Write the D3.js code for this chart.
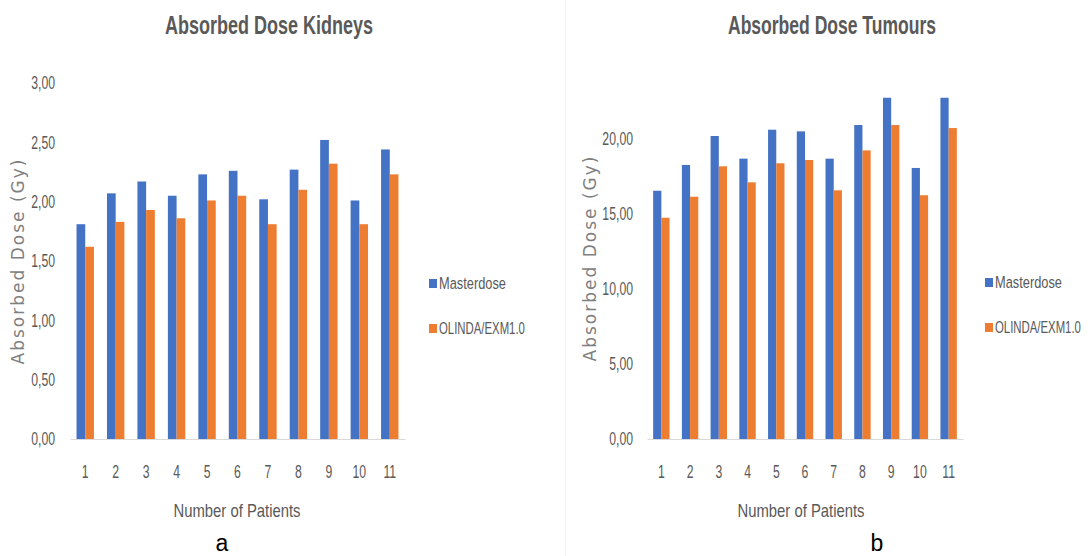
<!DOCTYPE html>
<html>
<head>
<meta charset="utf-8">
<script src="https://cdn.jsdelivr.net/npm/d3@7"></script>
<style>
  html, body { margin: 0; padding: 0; background: #fff; }
  svg { display: block; }
  .lbl { font-family: "Liberation Sans", Arial, sans-serif; fill: #595959; }
</style>
</head>
<body>
<svg id="chart" width="1091" height="556"></svg>
<script>
// Patients 1..11
const patients = ["1", "2", "3", "4", "5", "6", "7", "8", "9", "10", "11"];
const seriesNames = ["Masterdose", "OLINDA/EXM1.0"];

// Kidney absorbed dose (Gy)
const kidneysMasterdose = [1.81, 2.07, 2.17, 2.05, 2.23, 2.26, 2.02, 2.27, 2.52, 2.01, 2.44];
const kidneysOlinda     = [1.62, 1.83, 1.93, 1.86, 2.01, 2.05, 1.81, 2.10, 2.32, 1.81, 2.23];
const kidneysTicks = [0, 0.5, 1.0, 1.5, 2.0, 2.5, 3.0];

// Tumour absorbed dose (Gy)
const tumoursMasterdose = [16.55, 18.27, 20.20, 18.69, 20.62, 20.51, 18.69, 20.93, 22.75, 18.07, 22.75];
const tumoursOlinda     = [14.75, 16.15, 18.18, 17.11, 18.38, 18.60, 16.58, 19.24, 20.93, 16.25, 20.73];
const tumoursTicks = [0, 5, 10, 15, 20];

const colors = ["#4472C4", "#ED7D31"];
const legendWidths = [67, 86];
const fmt = v => d3.format(".2f")(v).replace(".", ",");

const svg = d3.select("#chart");

// narrow the glyphs of a text selection horizontally (condensed look)
function squeeze(sel, k) {
  sel.each(function () {
    const w = this.getComputedTextLength();
    d3.select(this).attr("textLength", w * k).attr("lengthAdjust", "spacingAndGlyphs");
  });
}
function fitWidth(sel, target) {
  sel.attr("textLength", target).attr("lengthAdjust", "spacingAndGlyphs");
}
// condensed text drawn through a horizontal scale transform
function scaledText(parent, x, y, str, size, target) {
  const g = parent.append("g");
  const t = g.append("text").attr("class", "lbl").attr("font-size", size)
    .attr("dy", "0.35em").text(str);
  const k = target / t.node().getComputedTextLength();
  g.attr("transform", `translate(${x},${y}) scale(${k},1)`);
  return t;
}

// faint divider between the two panels
svg.append("line")
  .attr("x1", 565.5).attr("x2", 565.5).attr("y1", 0).attr("y2", 556)
  .attr("stroke", "#f2f2f2").attr("stroke-width", 1);

function panel(cfg) {
  const g = svg.append("g");
  const x = d3.scaleBand().domain(patients).range([cfg.x0, cfg.x1]);
  const inner = d3.scaleBand().domain(seriesNames)
    .range([0, x.bandwidth()]).paddingInner(0).paddingOuter(0.75);
  const y = d3.scaleLinear().domain(cfg.domain).range([cfg.baseY, cfg.topY]);

  // bars
  const rows = patients.map((p, i) => ({ p, vals: [cfg.a[i], cfg.b[i]] }));
  const grp = g.selectAll("g.grp").data(rows).join("g")
    .attr("transform", d => `translate(${x(d.p)},0)`);
  grp.selectAll("rect").data(d => d.vals.map((v, k) => ({ v, k }))).join("rect")
    .attr("x", d => inner(seriesNames[d.k]))
    .attr("width", inner.bandwidth())
    .attr("y", d => y(d.v))
    .attr("height", d => y(0) - y(d.v))
    .attr("fill", d => colors[d.k]);

  // category axis
  const xAxis = d3.axisBottom(x).tickSize(0).tickPadding(0);
  const xg = g.append("g").attr("transform", `translate(0,${cfg.baseY})`).call(xAxis);
  xg.select(".domain").attr("stroke", "#d9d9d9").attr("stroke-width", 1);
  xg.selectAll("text").attr("class", "lbl").attr("font-size", 18).attr("y", 39).attr("dy", 0);
  squeeze(xg.selectAll("text"), 0.68);

  // value axis (labels only)
  const yAxis = d3.axisLeft(y).tickValues(cfg.ticks).tickFormat(fmt).tickSize(0).tickPadding(0);
  const yg = g.append("g").attr("transform", `translate(${cfg.labelX},0)`).call(yAxis);
  yg.select(".domain").remove();
  yg.selectAll("text").attr("class", "lbl").attr("font-size", 18);
  squeeze(yg.selectAll("text"), 0.68);

  // chart title
  const t = g.append("text")
    .attr("x", cfg.titleX).attr("y", 34)
    .attr("text-anchor", "middle")
    .attr("class", "lbl")
    .attr("font-weight", "bold").attr("font-size", 25)
    .text(cfg.title);
  fitWidth(t, 208);

  // value axis title
  g.append("text")
    .attr("transform", `translate(${cfg.yTitleX},${cfg.yTitleY}) rotate(-90)`)
    .attr("text-anchor", "middle")
    .attr("font-family", "'DejaVu Sans', sans-serif")
    .attr("font-size", 17).attr("letter-spacing", 2).attr("fill", "#7f7f7f")
    .text("Absorbed Dose (Gy)");

  // category axis title
  const xt = g.append("text")
    .attr("x", cfg.xTitleX).attr("y", 517)
    .attr("text-anchor", "middle")
    .attr("class", "lbl").attr("font-size", 19)
    .text("Number of Patients");
  fitWidth(xt, 127);

  // panel letter
  g.append("text")
    .attr("x", cfg.letterX).attr("y", 551)
    .attr("text-anchor", "middle")
    .attr("font-family", "'Liberation Sans', Arial, sans-serif")
    .attr("font-size", 23).attr("fill", "#000")
    .text(cfg.letter);

  // legend
  const lg = g.append("g").attr("transform", `translate(${cfg.legX},${cfg.legY})`);
  seriesNames.forEach((n, k) => {
    lg.append("rect").attr("x", 0).attr("y", k * 45 - 4).attr("width", 8).attr("height", 9)
      .attr("fill", colors[k]);
    scaledText(lg, 10, k * 45, n, 17, legendWidths[k]);
  });
}

panel({
  x0: 70, x1: 405, baseY: 439, topY: 83, domain: [0, 3],
  a: kidneysMasterdose, b: kidneysOlinda, ticks: kidneysTicks,
  labelX: 55, title: "Absorbed  Dose Kidneys", titleX: 269,
  yTitleX: 24, yTitleY: 261, xTitleX: 237, letterX: 222, letter: "a",
  legX: 429, legY: 283
});

panel({
  x0: 647, x1: 963, baseY: 439, topY: 64, domain: [0, 25],
  a: tumoursMasterdose, b: tumoursOlinda, ticks: tumoursTicks,
  labelX: 633, title: "Absorbed  Dose Tumours", titleX: 832,
  yTitleX: 596, yTitleY: 258, xTitleX: 801, letterX: 877, letter: "b",
  legX: 985, legY: 282
});
</script>
</body>
</html>
